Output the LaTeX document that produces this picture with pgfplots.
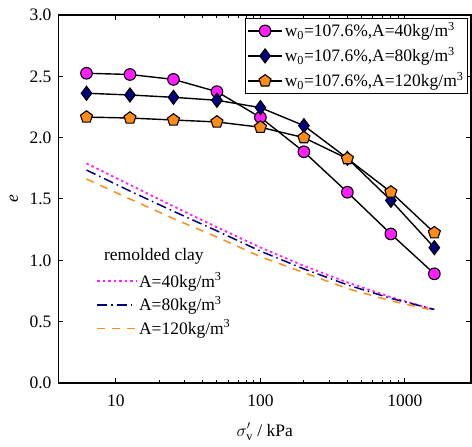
\documentclass[border=0pt]{standalone}
\usepackage{fontspec}
\setmainfont{Liberation Serif}
\usepackage{pgfplots}
\pgfplotsset{compat=1.18}
\definecolor{cpink}{HTML}{FF1EFF}
\definecolor{cnavy}{HTML}{000080}
\definecolor{corange}{HTML}{FF8C19}
\begin{document}
\fontsize{17.5}{21}\selectfont
\begin{tikzpicture}[font=\fontsize{17.5}{21}\selectfont]
\path[use as bounding box] (-58.5pt,-64pt) rectangle (413.5pt,383pt);
\begin{axis}[
  scale only axis, width=412.5pt, height=368pt,
  xmode=log, xmin=4, xmax=2870, ymin=0, ymax=3,
  xtick={10,100,1000}, xticklabels={10,100,1000},
  ytick={0,0.5,1,1.5,2,2.5,3},
  yticklabel style={/pgf/number format/fixed, /pgf/number format/fixed zerofill, /pgf/number format/precision=1, xshift=-1pt},
  /pgf/number format/assume math mode=true,
  xticklabel style={yshift=-6pt},
  tick align=inside, major tick length=5pt, minor tick length=2.5pt,
  axis line style={line width=1.3pt},
  every tick/.style={black, line width=1pt},
  xlabel={$\sigma'_{\mathrm{v}}$ / kPa},
  xlabel style={at={(axis description cs:0.5,-0.133)}, anchor=center},
  ylabel={\textit{e}},
  ylabel style={at={(axis description cs:-0.108,0.5)}, anchor=center},
  legend style={at={(axis description cs:0.9927,0.9918)}, anchor=north east,
    draw=black, line width=0.8pt, fill=white, row sep=4pt, inner sep=2pt,
    font=\fontsize{17.5}{21}\selectfont, cells={anchor=west}},
  legend image code/.code={\draw[mark repeat=2,mark phase=2,#1] plot coordinates {(0pt,0pt) (17pt,0pt) (34pt,0pt)};},
]
\addplot[black, line width=1.4pt, mark=*, mark size=5.8pt, mark options={fill=cpink, draw=black, line width=1.1pt}]
  coordinates {(6.25,2.525) (12.5,2.515) (25,2.475) (50,2.375) (100,2.165) (200,1.885) (400,1.555) (800,1.215) (1600,0.89)};
\addlegendentry{w\textsubscript{0}=107.6\%,A=40kg/m\textsuperscript{3}}
\addplot[black, line width=1.4pt, mark=diamond*, mark size=7pt, mark options={fill=cnavy, draw=black, line width=1.1pt}]
  coordinates {(6.25,2.362) (12.5,2.348) (25,2.329) (50,2.305) (100,2.245) (200,2.098) (400,1.832) (800,1.489) (1600,1.103)};
\addlegendentry{w\textsubscript{0}=107.6\%,A=80kg/m\textsuperscript{3}}
\addplot[black, line width=1.4pt, mark=pentagon*, mark size=6.3pt, mark options={fill=corange, draw=black, line width=1.1pt}]
  coordinates {(6.25,2.168) (12.5,2.16) (25,2.144) (50,2.128) (100,2.085) (200,2.0) (400,1.829) (800,1.557) (1600,1.225)};
\addlegendentry{w\textsubscript{0}=107.6\%,A=120kg/m\textsuperscript{3}}
\node[anchor=west] at (axis description cs:0.0958,0.343) {remolded clay};
\end{axis}
\begin{axis}[
  scale only axis, width=412.5pt, height=368pt,
  xmode=log, xmin=4, xmax=2870, ymin=0, ymax=3,
  hide axis,
  legend style={at={(axis description cs:0.0885,0.308)}, anchor=north west,
    draw=none, fill=none, row sep=2.5pt, inner sep=1pt,
    font=\fontsize{17.5}{21}\selectfont, cells={anchor=west}},
  legend image code/.code={\draw[#1] (0pt,0pt) -- (39pt,0pt);},
]
\addplot[cpink, line width=1.8pt, dash pattern=on 2.5pt off 3pt]
  coordinates {(6.25,1.79) (12.5,1.615) (25,1.44) (50,1.27) (100,1.105) (200,0.955) (400,0.82) (800,0.70) (1600,0.597)};
\addlegendentry{A=40kg/m\textsuperscript{3}}
\addplot[cnavy, line width=1.5pt, dash pattern=on 10pt off 4pt on 1.5pt off 4pt]
  coordinates {(6.25,1.736) (12.5,1.565) (25,1.40) (50,1.24) (100,1.075) (200,0.93) (400,0.80) (800,0.69) (1600,0.60)};
\addlegendentry{A=80kg/m\textsuperscript{3}}
\addplot[corange, line width=1.5pt, dash pattern=on 8pt off 7pt]
  coordinates {(6.25,1.663) (12.5,1.50) (25,1.34) (50,1.19) (100,1.03) (200,0.90) (400,0.77) (800,0.67) (1600,0.59)};
\addlegendentry{A=120kg/m\textsuperscript{3}}
\end{axis}
\end{tikzpicture}
\end{document}
